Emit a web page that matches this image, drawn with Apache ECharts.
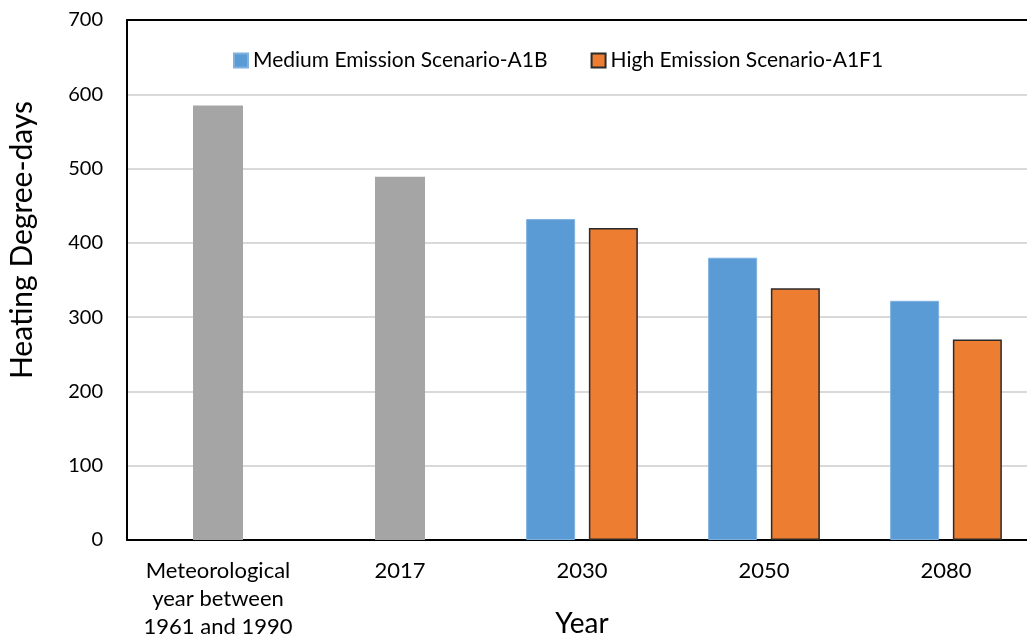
<!DOCTYPE html>
<html>
<head>
<meta charset="utf-8">
<script src="https://cdn.jsdelivr.net/npm/echarts@6/dist/echarts.min.js"></script>
<style>html,body{margin:0;padding:0;background:#fff;}#c{width:1027px;height:639px;}</style>
</head>
<body>
<div id="c"></div>
<script>
const categories = ['Meteorological\nyear between\n1961 and 1990', '2017', '2030', '2050', '2080'];
const baseline = [585, 489, '-', '-', '-'];
const mediumA1B = ['-', '-', 432, 380, 322];
const highA1F1 = ['-', '-', 420, 339, 270];
const yTicks = { min: 0, max: 700, interval: 100 };

const font = 'Lato, "Open Sans", sans-serif';
const chart = echarts.init(document.getElementById('c'));
chart.setOption({
  animation: false,
  textStyle: { fontFamily: font, color: '#000' },
  legend: {
    top: 45, left: 228,
    itemWidth: 14, itemHeight: 14, itemGap: 43,
    icon: 'rect',
    textStyle: { fontFamily: font, fontSize: 21, color: '#000' },
    data: ['Medium Emission Scenario-A1B', 'High Emission Scenario-A1F1']
  },
  grid: { left: 127, top: 20, bottom: 99, right: -10, outerBoundsMode: 'none', containLabel: false },
  xAxis: [
    {
      type: 'category', data: categories,
      name: 'Year', nameLocation: 'middle', nameGap: 70, nameMoveOverlap: false,
      nameTextStyle: { fontFamily: font, fontSize: 28, color: '#000' },
      axisLine: { lineStyle: { color: '#000', width: 2 } },
      axisTick: { show: false },
      axisLabel: { fontFamily: font, fontSize: 22, color: '#000', margin: 17, lineHeight: 28, interval: 0 }
    },
    {
      type: 'category', data: categories, position: 'top',
      axisLine: { show: true, lineStyle: { color: '#000', width: 2 } },
      axisTick: { show: false }, axisLabel: { show: false }
    }
  ],
  yAxis: {
    type: 'value', min: yTicks.min, max: yTicks.max, interval: yTicks.interval,
    name: 'Heating Degree-days', nameLocation: 'middle', nameGap: 90, nameMoveOverlap: false,
    nameTextStyle: { fontFamily: font, fontSize: 30, color: '#000', padding: [0, 0, 0, 80] },
    axisLine: { show: true, lineStyle: { color: '#000', width: 2 } },
    axisTick: { show: false },
    axisLabel: { fontFamily: font, fontSize: 20, color: '#000', margin: 24 },
    splitLine: { lineStyle: { color: '#d9d9d9', width: 2 } }
  },
  series: [
    {
      name: 'Baseline', type: 'bar', xAxisIndex: 1, data: baseline, barWidth: 50,
      itemStyle: { color: '#a5a5a5' }
    },
    {
      name: 'Medium Emission Scenario-A1B', type: 'bar', xAxisIndex: 0, data: mediumA1B,
      barWidth: 49, barGap: '28%',
      itemStyle: { color: '#5b9bd5', borderColor: '#7eb0e0', borderWidth: 1 }
    },
    {
      name: 'High Emission Scenario-A1F1', type: 'bar', xAxisIndex: 0, data: highA1F1,
      barWidth: 49, barGap: '28%',
      itemStyle: { color: '#ed7d31', borderColor: '#2b2b2b', borderWidth: 1.5 }
    }
  ]
});
</script>
</body>
</html>
